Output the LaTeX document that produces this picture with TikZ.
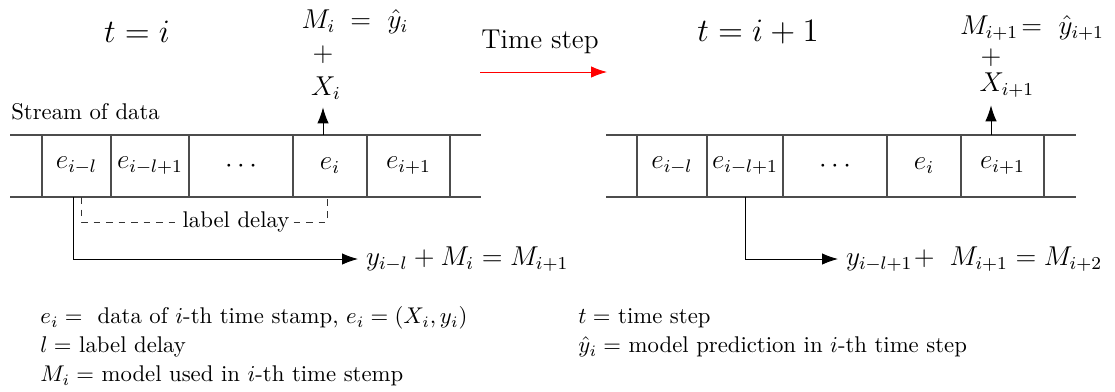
\documentclass[tikz,border=0pt]{standalone}
\usetikzlibrary{arrows.meta,positioning}
\tikzset{
	cell/.style = {draw = black!70, line width = 0.6pt, minimum width = #1*0.44pt, minimum height = 27.3pt, inner sep = 0pt, outer sep = 0pt, font = \large},
	stream/.style = {black!70, line width = 0.6pt},
	tip/.style = {-{Latex[length = 7pt, width = 5pt]}},
	delay/.style = {black!80, dash pattern = on 3pt off 2.5pt},
	legend/.style = {anchor = west, inner sep = 0pt},
}
\begin{document}
\begin{tikzpicture}[x = 0.44pt, y = -0.44pt]
	\useasboundingbox (0,0) rectangle (1115,391);
	% stream at time i
	\node [font = \Large] (ti) at (137,32) {$t = i$};
	\node (sd) at (85.5,112) {Stream of data};
	\draw [stream] (10,135) -- (481,135) (10,197) -- (481,197);
	\node [cell = 69, anchor = west] (a1) at (42,166) {$e_{i-l}$};
	\node [cell = 78, right = 0pt of a1] (a2) {$e_{i-l+1}$};
	\node [cell = 104, right = 0pt of a2] (a3) {$\cdots$};
	\node [cell = 74, right = 0pt of a3] (a4) {$e_i$};
	\node [cell = 83, right = 0pt of a4] (a5) {$e_{i+1}$};
	\node [font = \large] (ma) at (355,22) {$M_i \;=\ \hat{y}_i$};
	\node [font = \large] (pa) at (323,55) {$+$};
	\node [font = \large] (xa) at (326,88) {$X_i$};
	\draw [tip] (a4.north -| pa) -- (pa |- xa.south);
	\coordinate (dl) at (81,197);
	\coordinate (dr) at (327,199);
	\draw [delay] (dl) -- ++(0,25) -| (dr);
	\node [fill = white, inner sep = 1pt] (ld) at (236,222) {label delay};
	\node [font = \large, anchor = west] (ya) at (358,259) {$y_{i-l} + M_i = M_{i+1}$};
	\draw [tip] ([xshift = -1.5pt]a1.south) |- (ya.west);
	% time step
	\node [font = \large] (ts) at (540,42) {Time step};
	\coordinate (ts1) at (480,72);
	\coordinate (ts2) at (607,72);
	\draw [tip, red] (ts1) -- (ts2);
	% stream at time i+1
	\node [font = \Large] (tj) at (758,32) {$t = i + 1$};
	\draw [stream] (606,135) -- (1076,135) (606,197) -- (1076,197);
	\node [cell = 70, anchor = west] (b1) at (637,166) {$e_{i-l}$};
	\node [cell = 76, right = 0pt of b1] (b2) {$e_{i-l+1}$};
	\node [cell = 104, right = 0pt of b2] (b3) {$\cdots$};
	\node [cell = 74, right = 0pt of b3] (b4) {$e_i$};
	\node [cell = 83, right = 0pt of b4] (b5) {$e_{i+1}$};
	\node [font = \large] (mb) at (1032,28) {$M_{i+1}\!=\ \hat{y}_{i+1}$};
	\node [font = \large] (pb) at (991,58) {$+$};
	\node [font = \large] (xb) at (1007,85) {$X_{i+1}$};
	\draw [tip] (b5.north -| pb) -- (pb |- xb.south);
	\node [font = \large, anchor = west] (yb) at (838,259) {$y_{i-l+1}\!+\ M_{i+1} = M_{i+2}$};
	\draw [tip] (b2.south) |- (yb.west);
	% legend
	\node [legend] (l1) at (40,318) {$e_i =$ ~data of $i$-th time stamp, $e_i = (X_i, y_i)$};
	\node [legend] (l2) at (40,347) {$l =$ label delay};
	\node [legend] (l3) at (40,376) {$M_i =$ model used in $i$-th time stemp};
	\node [legend] (l4) at (578,318) {$t =$ time step};
	\node [legend] (l5) at (578,347) {$\hat{y}_i =$ model prediction in $i$-th time step};
\end{tikzpicture}
\end{document}
